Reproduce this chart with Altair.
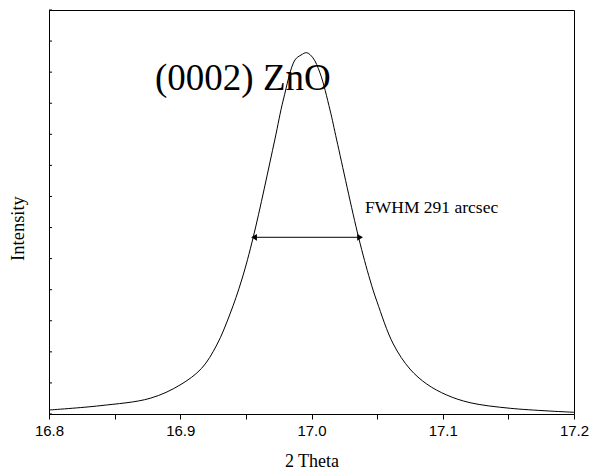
import altair as alt
import pandas as pd

# Peak profile (2 Theta, intensity in arbitrary units)
theta = [16.800, 16.8389, 16.877, 16.8998, 16.9163, 16.9278, 16.9379, 16.9468, 16.9557,
         16.972, 16.9785, 16.9874, 16.992, 16.9963, 17.0011, 17.0065, 17.0141,
         17.0192, 17.0358, 17.0446, 17.0499, 17.0623, 17.0750, 17.0878, 17.1030,
         17.1208, 17.1515, 17.200]
intensity = [12.9, 26.7, 50.5, 93.3, 147.1, 222.0, 321.8, 431.2, 570.6,
             881.7, 1010.5, 1139.2, 1155.0, 1162.7, 1146.0, 1097.3, 978.3,
             881.7, 569.6, 431.2, 361.4, 225.3, 144.8, 96.5, 61.1,
             36.4, 18.3, 5.5]

x_ticks = [16.8, 16.85, 16.9, 16.95, 17.0, 17.05, 17.1, 17.15, 17.2]
y_ticks = [0, 100, 200, 300, 400, 500, 600, 700, 800, 900, 1000, 1100, 1200, 1300]

# FWHM arrow
fwhm_x = [16.9562, 17.0370]
fwhm_y = 568.6

peak_label = "(0002) ZnO"
peak_label_pos = (16.8808, 1042.7)
fwhm_label = "FWHM 291 arcsec"
fwhm_label_pos = (17.0408, 645.2)

SERIF = "Times New Roman, Liberation Serif, serif"
SANS = "Arial, Liberation Sans, sans-serif"

curve_df = pd.DataFrame({"theta": theta, "intensity": intensity})
xs = alt.Scale(domain=[16.8, 17.2], nice=False, zero=False)
ys = alt.Scale(domain=[0, 1300], nice=False, zero=False)

x_axis = alt.Axis(
    values=x_ticks,
    labelExpr="round(datum.value*20) % 2 === 0 ? format(datum.value, '.1f') : ''",
    labelFont=SANS, labelFontSize=15, labelColor="black",
    labelPadding=4, tickSize=5, tickColor="black", domainColor="black",
    grid=False, title="2 Theta", titleFont=SERIF, titleFontSize=18,
    titleFontWeight="normal", titleColor="black", titlePadding=14,
    labelFlush=False, labelOverlap=False,
)
y_axis = alt.Axis(
    labels=False, ticks=False, grid=False, domainColor="black",
    title="Intensity", titleFont=SERIF, titleFontSize=18.5,
    titleFontWeight="normal", titleColor="black", titlePadding=22,
    titleY=218,
)

curve = alt.Chart(curve_df).mark_line(
    color="black", strokeWidth=1, interpolate="catmull-rom"
).encode(
    x=alt.X("theta:Q", scale=xs, axis=x_axis),
    y=alt.Y("intensity:Q", scale=ys, axis=y_axis),
)

ytick_df = pd.DataFrame({"v": y_ticks})
yticks = alt.Chart(ytick_df).mark_rule(color="black", strokeWidth=1).encode(
    y=alt.Y("v:Q", scale=ys),
    x=alt.value(0), x2=alt.value(3),
)

arrow_df = pd.DataFrame({"x1": [fwhm_x[0]], "x2": [fwhm_x[1]], "y": [fwhm_y]})
arrow_line = alt.Chart(arrow_df).mark_rule(color="black", strokeWidth=1).encode(
    x=alt.X("x1:Q", scale=xs), x2="x2:Q", y=alt.Y("y:Q", scale=ys),
)
heads_df = pd.DataFrame({
    "x": fwhm_x, "y": [fwhm_y, fwhm_y],
    "shape": ["triangle-left", "triangle-right"],
    "dx": [4, -4],
})
heads = alt.Chart(heads_df).mark_point(
    filled=True, color="black", size=45, opacity=1
).encode(
    x=alt.X("x:Q", scale=xs), y=alt.Y("y:Q", scale=ys),
    shape=alt.Shape("shape:N", scale=None),
    xOffset=alt.XOffset("dx:Q", scale=None),
)

t1 = alt.Chart(pd.DataFrame({"x": [peak_label_pos[0]], "y": [peak_label_pos[1]], "t": [peak_label]})).mark_text(
    font=SERIF, fontSize=37, align="left", baseline="alphabetic", color="black"
).encode(x=alt.X("x:Q", scale=xs), y=alt.Y("y:Q", scale=ys), text="t:N")

t2 = alt.Chart(pd.DataFrame({"x": [fwhm_label_pos[0]], "y": [fwhm_label_pos[1]], "t": [fwhm_label]})).mark_text(
    font=SERIF, fontSize=17.5, align="left", baseline="alphabetic", color="black"
).encode(x=alt.X("x:Q", scale=xs), y=alt.Y("y:Q", scale=ys), text="t:N")

chart = alt.layer(curve, yticks, arrow_line, heads, t1, t2).properties(
    width=525, height=404,
    autosize=alt.AutoSizeParams(type="none"),
    padding={"left": 49, "top": 10, "right": 23, "bottom": 60},
    background="white",
).configure_view(stroke="black", strokeWidth=1)

chart.save("out.html", embed_options={"renderer": "svg", "actions": False})
